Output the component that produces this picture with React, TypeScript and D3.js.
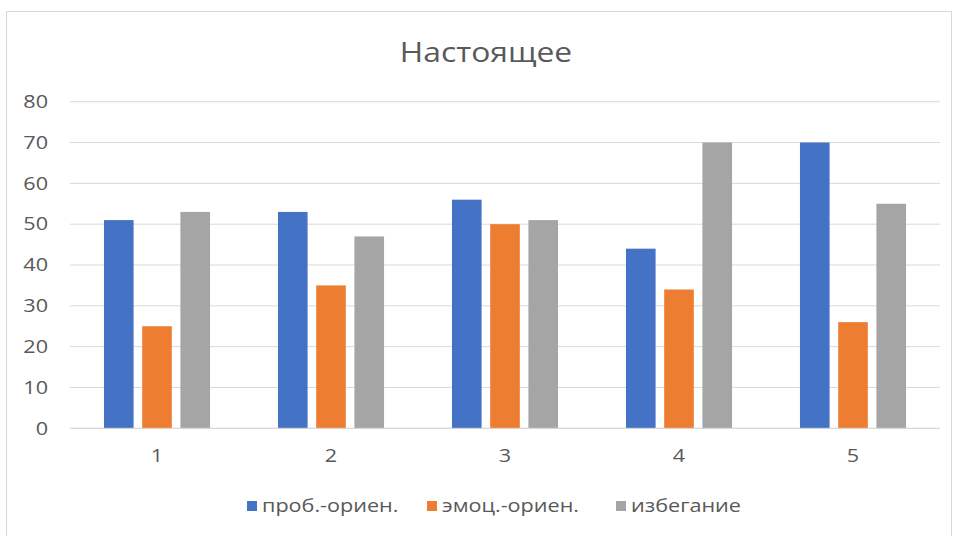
import React from "react";
import * as d3 from "d3";

const categories = ["1", "2", "3", "4", "5"];
const seriesNames = ["проб.-ориен.", "эмоц.-ориен.", "избегание"];
const problemValues = [51, 53, 56, 44, 70];
const emotionValues = [25, 35, 50, 34, 26];
const avoidValues = [53, 47, 51, 70, 55];
const yTicks = [0, 10, 20, 30, 40, 50, 60, 70, 80];
const title = "Настоящее";

const colors = ["#4472C4", "#ED7D31", "#A5A5A5"];
const seriesValues = [problemValues, emotionValues, avoidValues];

const W = 953;
const H = 536;
const plot = { left: 70, right: 940, top: 101.7, bottom: 428.3 };
const font = "'Open Sans', 'Noto Sans', sans-serif";
const textColor = "#595959";
const stretch = 1.2;

type LabelProps = {
  x: number;
  y: number;
  size: number;
  anchor?: "start" | "middle" | "end";
  children: React.ReactNode;
};

// Text drawn slightly wider than the font's natural proportions.
function Label({ x, y, size, anchor = "start", children }: LabelProps) {
  return (
    <text
      transform={`translate(${x},${y}) scale(${stretch},1)`}
      dy="0.35em"
      textAnchor={anchor}
      fontFamily={font}
      fontSize={size}
      fill={textColor}
    >
      {children}
    </text>
  );
}

export default function App() {
  const x0 = d3
    .scaleBand<string>()
    .domain(categories)
    .range([plot.left, plot.right])
    .padding(0);
  const band = x0.bandwidth();
  const groupW = band * 0.659;
  const x1 = d3
    .scaleBand<string>()
    .domain(seriesNames)
    .range([(band - groupW) / 2, (band + groupW) / 2])
    .paddingInner(0.225)
    .paddingOuter(0.1125);
  const y = d3.scaleLinear().domain([0, 80]).range([plot.bottom, plot.top]);

  const legendX = [247, 427, 616];

  return (
    <svg
      width={W}
      height={H}
      style={{ position: "absolute", left: 0, top: 0, background: "#fff" }}
    >
      <rect x={6.5} y={11.5} width={945} height={530} fill="#fff" stroke="#d9d9d9" />
      <Label x={486} y={53} size={26.5} anchor="middle">
        {title}
      </Label>

      {yTicks.map((t) => (
        <g key={t}>
          <line
            x1={plot.left}
            x2={plot.right}
            y1={y(t)}
            y2={y(t)}
            stroke="#d9d9d9"
            strokeWidth={1}
          />
          <Label x={48} y={y(t)} size={18} anchor="end">
            {t}
          </Label>
        </g>
      ))}

      {categories.map((c, ci) => (
        <g key={c} transform={`translate(${x0(c)},0)`}>
          {seriesNames.map((s, si) => {
            const v = seriesValues[si][ci];
            return (
              <rect
                key={s}
                x={x1(s)}
                y={y(v)}
                width={x1.bandwidth()}
                height={y(0) - y(v)}
                fill={colors[si]}
              />
            );
          })}
          <Label x={band / 2} y={456} size={18} anchor="middle">
            {c}
          </Label>
        </g>
      ))}

      <line
        x1={plot.left}
        x2={plot.right}
        y1={y(0)}
        y2={y(0)}
        stroke="#d9d9d9"
        strokeWidth={1}
      />

      {seriesNames.map((s, si) => (
        <g key={s} transform={`translate(${legendX[si]},506)`}>
          <rect x={0} y={-5} width={10} height={10} fill={colors[si]} />
          <Label x={15} y={0} size={18}>
            {s}
          </Label>
        </g>
      ))}
    </svg>
  );
}
